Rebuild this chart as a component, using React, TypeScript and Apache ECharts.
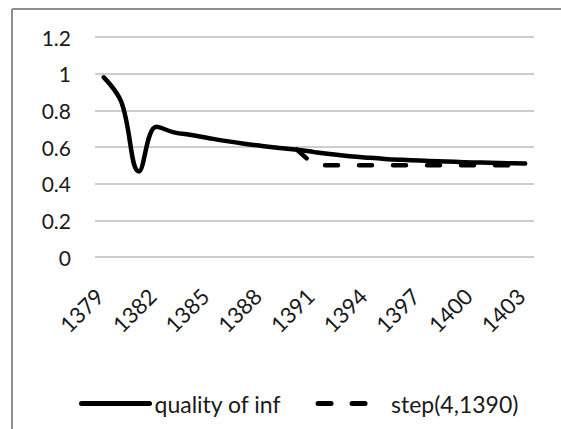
import React, { useEffect, useRef } from "react";
import * as echarts from "echarts";

const years: string[] = [
  "1379", "1380", "1381", "1382", "1383", "1384", "1385", "1386", "1387",
  "1388", "1389", "1390", "1391", "1392", "1393", "1394", "1395", "1396",
  "1397", "1398", "1399", "1400", "1401", "1402", "1403",
];

const qualityOfInf: number[] = [
  0.98, 0.845, 0.467, 0.71, 0.68, 0.665, 0.648, 0.632, 0.618,
  0.606, 0.595, 0.585, 0.572, 0.56, 0.55, 0.542, 0.535, 0.53,
  0.526, 0.522, 0.519, 0.516, 0.514, 0.512, 0.51,
];

const stepSeries: (number | null)[] = [
  null, null, null, null, null, null, null, null, null,
  null, null, 0.585, 0.5, 0.5, 0.5, 0.5, 0.5, 0.5,
  0.5, 0.5, 0.5, 0.5, 0.5, 0.5, 0.5,
];

const seriesNames = ["quality of inf", "step(4,1390)"];

const FONT = "Lato";

export default function App() {
  const ref = useRef<HTMLDivElement>(null);

  useEffect(() => {
    if (!ref.current) return;
    const chart = echarts.init(ref.current, undefined, { renderer: "svg" });
    chart.setOption({
      animation: false,
      backgroundColor: "#ffffff",
      grid: { left: 95, right: 27, top: 37, bottom: 172, containLabel: false },
      xAxis: {
        type: "category",
        data: years,
        boundaryGap: true,
        axisLine: { show: false },
        axisTick: { show: false },
        splitLine: { show: false },
        axisLabel: {
          interval: 2,
          rotate: 45,
          margin: 31,
          padding: [0, 6, 0, 0],
          color: "#1a1a1a",
          fontFamily: FONT,
          fontSize: 22,
        },
      },
      yAxis: {
        type: "value",
        min: 0,
        max: 1.2,
        interval: 0.2,
        axisLine: { show: false },
        axisTick: { show: false },
        splitLine: { lineStyle: { color: "#bdbdbd", width: 1.5 } },
        axisLabel: {
          margin: 24,
          color: "#1a1a1a",
          fontFamily: FONT,
          fontSize: 21,
        },
      },
      legend: {
        data: seriesNames,
        left: 74,
        top: 387,
        itemWidth: 68,
        itemHeight: 14,
        itemGap: 34,
        itemStyle: { opacity: 0 },
        lineStyle: { width: 5 },
        textStyle: { color: "#1a1a1a", fontFamily: FONT, fontSize: 23, padding: [0, 0, 0, 0] },
      },
      series: [
        {
          name: seriesNames[0],
          type: "line",
          data: qualityOfInf,
          smooth: 0.4,
          symbol: "none",
          lineStyle: { color: "#000000", width: 4.5, cap: "round", join: "round" },
          itemStyle: { color: "#000000" },
          z: 3,
        },
        {
          name: seriesNames[1],
          type: "line",
          data: stepSeries,
          smooth: false,
          symbol: "none",
          lineStyle: {
            color: "#000000",
            width: 4.5,
            type: [13, 21],
            cap: "round",
            join: "round",
          },
          itemStyle: { color: "#000000" },
          z: 2,
        },
      ],
      graphic: [
        {
          type: "line",
          shape: { x1: 12, y1: 9, x2: 561, y2: 9 },
          style: { stroke: "#8f8f8f", lineWidth: 2 },
          silent: true,
        },
        {
          type: "line",
          shape: { x1: 12, y1: 9, x2: 12, y2: 429 },
          style: { stroke: "#8f8f8f", lineWidth: 2 },
          silent: true,
        },
      ],
    });
    return () => chart.dispose();
  }, []);

  return (
    <div
      ref={ref}
      style={{ position: "absolute", left: 0, top: 0, width: 561, height: 429 }}
    />
  );
}
